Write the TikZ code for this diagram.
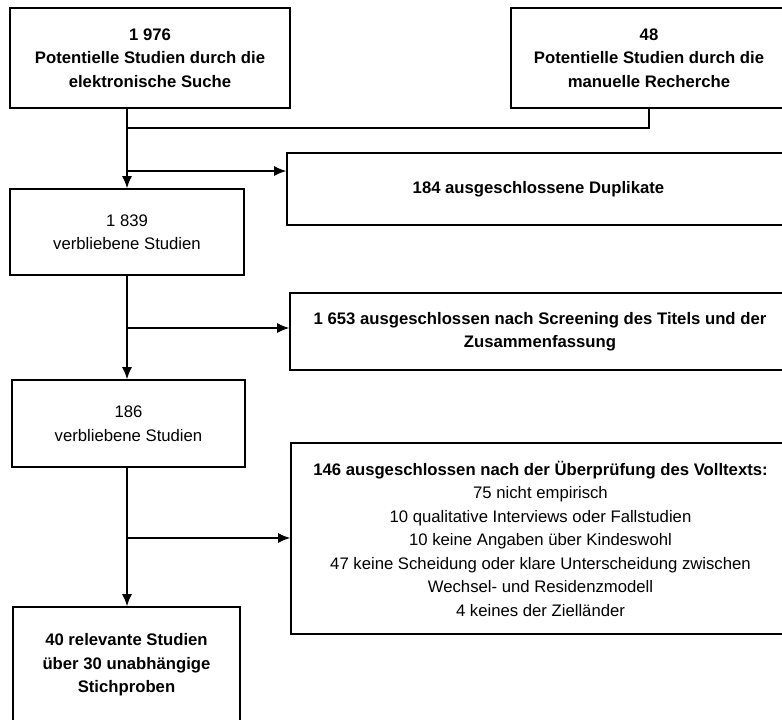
\documentclass[tikz,border=0pt]{standalone}
\usepackage{fontspec}
\setmainfont{Liberation Sans}
\usetikzlibrary{arrows.meta}

\begin{document}
\begin{tikzpicture}[x=1pt, y=-1pt, >={Latex[length=12pt,width=10pt]},
    stage/.style={draw, line width=1.6pt, align=center, inner sep=0pt,
      font=\fontsize{16.7}{23.5}\selectfont},
    flow/.style={line width=1.5pt}]
    \useasboundingbox (0, 0) rectangle (782, 720);
    \clip (0, 0) rectangle (782, 720);
    % sources
    \node[stage, minimum width=280, minimum height=100] (srchE) at (150, 58)
      {\textbf{1 976}\\\textbf{Potentielle Studien durch die}\\\textbf{elektronische Suche}};
    \node[stage, minimum width=276, minimum height=100] (srchM) at (649, 58)
      {\textbf{48}\\\textbf{Potentielle Studien durch die}\\\textbf{manuelle Recherche}};
    % left column
    \node[stage, minimum width=234, minimum height=86] (rem1) at (127, 232)
      {1 839\\verbliebene Studien};
    \node[stage, minimum width=233, minimum height=87] (rem2) at (128.5, 423.5)
      {186\\verbliebene Studien};
    \node[stage, minimum width=227, minimum height=116] (incl) at (126.5, 665)
      {\textbf{40 relevante Studien}\\\textbf{über 30 unabhängige}\\\textbf{Stichproben}};
    % right column
    \node[stage, minimum width=503, minimum height=72] (dup) at (538.5, 189)
      {\textbf{184 ausgeschlossene Duplikate}};
    \node[stage, minimum width=500, minimum height=77] (scr) at (540, 331.5)
      {\textbf{1 653 ausgeschlossen nach Screening des Titels und der}\\\textbf{Zusammenfassung}};
    \node[stage, minimum width=499, minimum height=191] (full) at (540.5, 538.5)
      {\textbf{146 ausgeschlossen nach der Überprüfung des Volltexts:}\\
       75 nicht empirisch\\
       10 qualitative Interviews oder Fallstudien\\
       10 keine Angaben über Kindeswohl\\
       47 keine Scheidung oder klare Unterscheidung zwischen\\
       Wechsel- und Residenzmodell\\
       4 keines der Zielländer};
    % branch points
    \coordinate (j1) at (127, 128);
    \coordinate (b1) at (127, 171);
    \coordinate (b2) at (127, 328);
    \coordinate (b3) at (127, 538);
    \draw[flow] (srchM.south) |- (j1);
    \draw[flow, ->] (srchE.south -| rem1.north) -- (rem1.north);
    \draw[flow, ->] (b1) -- (b1 -| dup.west);
    \draw[flow, ->] (rem1.south) -- (rem1.south |- rem2.north);
    \draw[flow, ->] (b2) -- (b2 -| scr.west);
    \draw[flow, ->] (rem2.south -| rem1.south) -- (rem1.south |- incl.north);
    \draw[flow, ->] (b3) -- (b3 -| full.west);
  \end{tikzpicture}
\end{document}
